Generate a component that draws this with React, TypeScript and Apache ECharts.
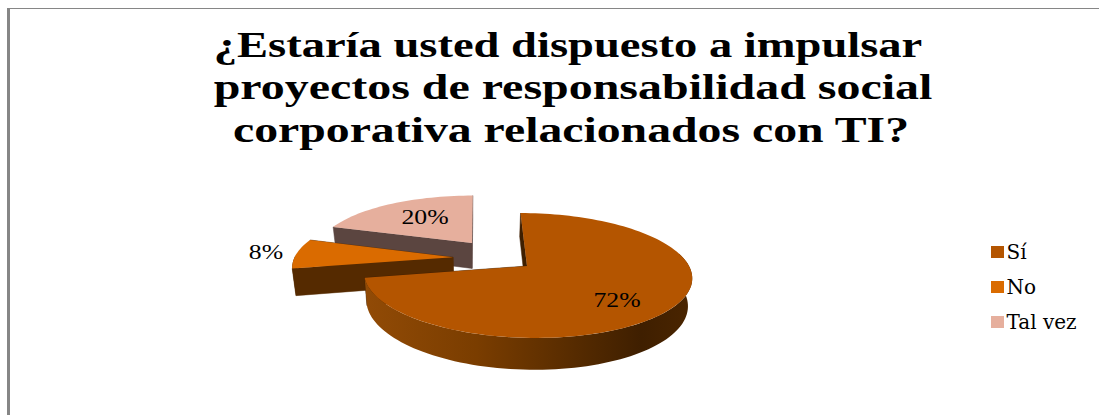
import React, { useEffect, useRef } from "react";
import * as echarts from "echarts";

const categories = ["Sí", "No", "Tal vez"];
const values = [72, 8, 20];
const titleLines = [
  "¿Estaría usted dispuesto a impulsar",
  "proyectos de responsabilidad social",
  "corporativa relacionados con TI?",
];
const titleCenters = [568, 573, 571];
const titleBaselines = [63, 105, 148];
const titleScales = [1.33, 1.37, 1.365];
const topColors = ["#B45500", "#DA6B00", "#E6AF9D"];
const sideColors = ["#3F1F00", "#552A00", "#5B4540"];
const discOffsets = [[0, 0], [-0.46, -0.147], [-0.342, -0.4]];
const labelPositions = [[617, 300], [266, 252], [425, 217]];

const VX = 478, C = 49, B = 162, P = 0.152, A = 61, CY = 266, DEPTH = 27, S = 0.98;
const total = values.reduce((a, b) => a + b, 0);

function project(u: number, v: number, lower: boolean): [number, number] {
  const d = 1 - P * v;
  return [VX + ((C + B * u) / d) * (lower ? S : 1), CY + (A * v + (lower ? DEPTH : 0)) / d];
}
function rim(i: number, deg: number, lower: boolean) {
  const t = (deg * Math.PI) / 180;
  return project(discOffsets[i][0] + Math.sin(t), discOffsets[i][1] - Math.cos(t), lower);
}
function arc(i: number, a0: number, a1: number, lower: boolean) {
  const pts: [number, number][] = [];
  const n = Math.max(2, Math.ceil(Math.abs(a1 - a0) / 2));
  for (let k = 0; k <= n; k++) pts.push(rim(i, a0 + ((a1 - a0) * k) / n, lower));
  return pts;
}

function renderSlice(i: number) {
  return (_params: any, api: any) => {
    const before = values.slice(0, i).reduce((a, b) => a + b, 0);
    const a0 = (before / total) * 360;
    const a1 = a0 + (api.value(0) / total) * 360;
    const apex = project(discOffsets[i][0], discOffsets[i][1], false);
    const apexLow = project(discOffsets[i][0], discOffsets[i][1], true);
    const children: any[] = [];
    const side = sideColors[i];
    const quad = (deg: number, fill: string) => ({
      type: "polygon",
      shape: { points: [apex, rim(i, deg, false), rim(i, deg, true), apexLow] },
      style: { fill, stroke: fill, lineWidth: 0.5 },
    });
    children.push(quad(a1, side));
    children.push(quad(a0, side));
    const w0 = Math.max(a0, 78);
    const w1 = Math.min(a1, 272);
    if (w1 > w0) {
      const fill =
        i === 0
          ? new echarts.graphic.LinearGradient(362, 0, 690, 0, [
              { offset: 0, color: "#924B06" },
              { offset: 0.35, color: "#7A3D00" },
              { offset: 0.7, color: "#502800" },
              { offset: 0.85, color: "#3F1F00" },
              { offset: 1, color: "#4A2500" },
            ], true)
          : side;
      children.push({
        type: "polygon",
        shape: { points: [...arc(i, w0, w1, false), ...arc(i, w1, w0, true)] },
        style: { fill },
      });
    }
    children.push({
      type: "polygon",
      shape: { points: [apex, ...arc(i, a0, a1, false)] },
      style: { fill: topColors[i] },
    });
    children.push({
      type: "text",
      x: labelPositions[i][0],
      y: labelPositions[i][1],
      scaleX: 1.17,
      style: {
        text: `${api.value(0)}%`,
        fontFamily: "Liberation Serif",
        fontSize: 22,
        fill: "#000",
        align: "center",
        verticalAlign: "middle",
      },
    });
    return { type: "group", children };
  };
}

export default function App() {
  const ref = useRef<HTMLDivElement>(null);
  useEffect(() => {
    const chart = echarts.init(ref.current!, undefined, { renderer: "svg" });
    chart.setOption({
      animation: false,
      backgroundColor: "#fff",
      legend: {
        data: categories,
        orient: "vertical",
        left: 991,
        top: 242,
        padding: 0,
        itemWidth: 13,
        itemHeight: 12,
        itemGap: 15,
        icon: "rect",
        textStyle: { fontFamily: "DejaVu Serif", fontSize: 20, color: "#000", padding: [0, 0, 0, -2.5] },
        selectedMode: false,
      },
      graphic: [
        { type: "rect", shape: { x: 7, y: 8, width: 3, height: 407 }, style: { fill: "#868686" } },
        { type: "rect", shape: { x: 7, y: 8, width: 1092, height: 1 }, style: { fill: "#868686" } },
        ...titleLines.map((text, i) => ({
          type: "text",
          x: titleCenters[i],
          y: titleBaselines[i],
          scaleX: titleScales[i],
          style: {
            text,
            fontFamily: "Liberation Serif",
            fontWeight: "bold",
            fontSize: 35,
            fill: "#000",
            align: "center",
            verticalAlign: "bottom",
          },
        })),
      ],
      series: [2, 1, 0].map((i) => ({
        type: "custom",
        name: categories[i],
        coordinateSystem: "none",
        silent: true,
        itemStyle: { color: topColors[i] },
        data: [{ name: categories[i], value: [values[i]] }],
        renderItem: renderSlice(i),
      })),
    });
    return () => chart.dispose();
  }, []);
  return <div ref={ref} style={{ position: "fixed", left: 0, top: 0, width: 1099, height: 415 }} />;
}
